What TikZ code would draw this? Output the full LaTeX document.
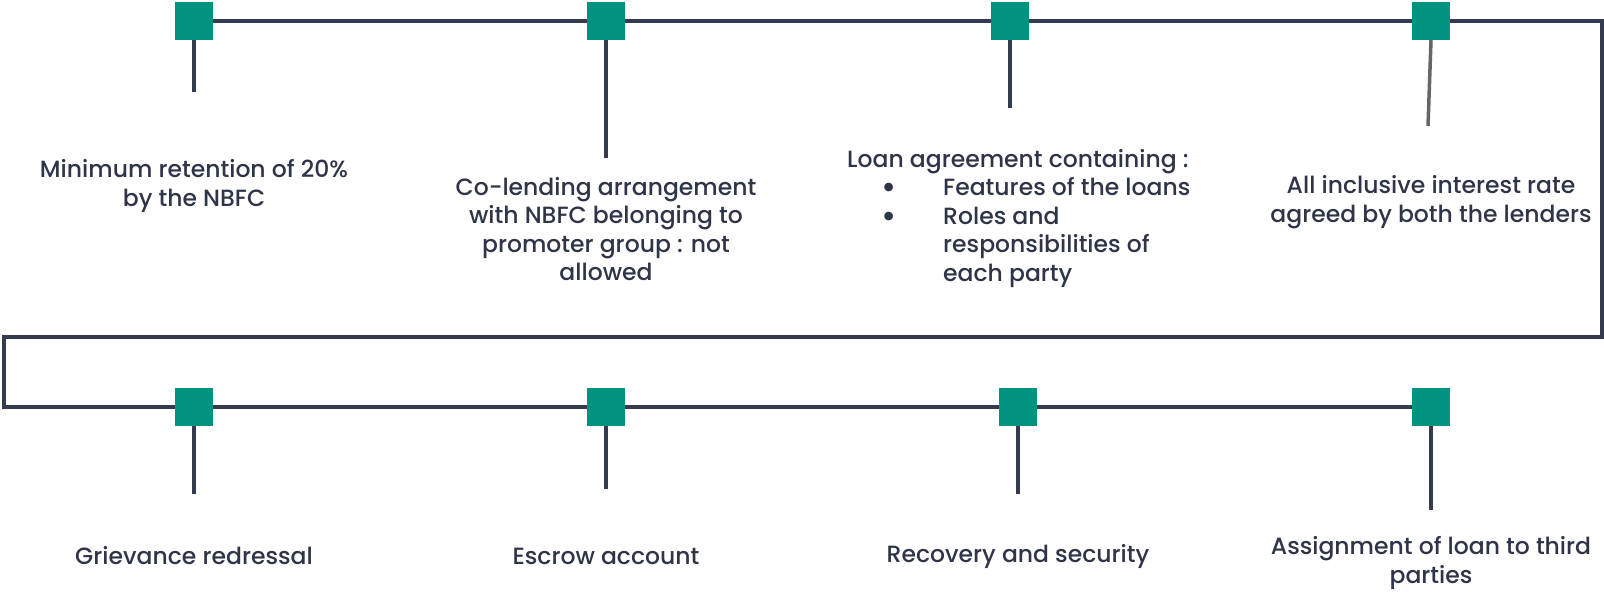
\documentclass[tikz,border=0pt]{standalone}
\usepackage{fontspec}
\setmainfont{Poppins}[UprightFont=* Medium]
\usetikzlibrary{positioning,calc}
\definecolor{ILine}{HTML}{343B4F}
\definecolor{ITeal}{HTML}{009380}
\definecolor{IText}{HTML}{2F3548}
\definecolor{IGrey}{HTML}{666666}

\begin{document}
\begin{tikzpicture}[x=1pt, y=-1pt,
  every node/.style={font=\fontsize{23.5}{28.5}\selectfont, text=IText},
  mbox/.style={fill=ITeal, minimum size=38pt, inner sep=0pt},
  rail/.style={draw=ILine, line width=4pt},
  stem/.style={draw=ILine, line width=3.5pt},
  lbl/.style={align=center, inner sep=0pt}]
\useasboundingbox (0,0) rectangle (1604,592);

% milestones
\node[mbox] (t1) at (194,21) {};
\node[mbox] (t2) at (606,21) {};
\node[mbox] (t3) at (1010,21) {};
\node[mbox] (t4) at (1431,21) {};
\node[mbox] (b1) at (194,407) {};
\node[mbox] (b2) at (606,407) {};
\node[mbox] (b3) at (1018,407) {};
\node[mbox] (b4) at (1431,407) {};

% turn of the rail
\coordinate (ne) at (1602,21);
\coordinate (se) at (1602,337);
\coordinate (sw) at (4,337);
\coordinate (nw) at (4,407);

% stem ends
\coordinate (e1) at (194,92);
\coordinate (e2) at (606,158);
\coordinate (e3) at (1010,108);
\coordinate (e4) at (1428,126);
\coordinate (f1) at (194,494);
\coordinate (f2) at (606,489);
\coordinate (f3) at (1018,494);
\coordinate (f4) at (1431,510);

\draw[rail] (t1) -- (t2) -- (t3) -- (t4) -- (ne) -- (se) -- (sw) -- (nw) -- (b1) -- (b2) -- (b3) -- (b4);

\draw[stem] (t1.south) -- (e1);
\draw[stem] (t2.south) -- (e2);
\draw[stem] (t3.south) -- (e3);
\draw[stem, draw=IGrey] (t4.south) -- (e4);
\draw[stem] (b1.south) -- (f1);
\draw[stem] (b2.south) -- (f2);
\draw[stem] (b3.south) -- (f3);
\draw[stem] (b4.south) -- (f4);

% labels
\newcommand\bul{\raisebox{-3pt}[0pt][0pt]{\scalebox{1.4}{\textbullet}}}
\node[lbl] (l1) at (194,186) {Minimum retention of 20\%\\by the NBFC};
\node[lbl] (l2) at (606,229) {Co-lending arrangement\\with NBFC belonging to\\promoter group : not\\allowed};
\node[inner sep=0pt, anchor=north west] (l3) at (847,147) {%
  \begin{tabular}{@{\hspace{34pt}}p{62pt}@{}l@{}}
  \multicolumn{2}{@{}l@{}}{Loan agreement containing :}\\
  \bul & Features of the loans\\
  \bul & Roles and\\
       & responsibilities of\\
       & each party
  \end{tabular}};
\node[lbl] (l4) at (1431,202) {All inclusive interest rate\\agreed by both the lenders};
\node[lbl] (l5) at (194,556) {Grievance redressal};
\node[lbl] (l6) at (606,556) {Escrow account};
\node[lbl] (l7) at (1018,556) {Recovery and security};
\node[lbl] (l8) at (1431,563) {Assignment of loan to third\\parties};
\end{tikzpicture}
\end{document}
